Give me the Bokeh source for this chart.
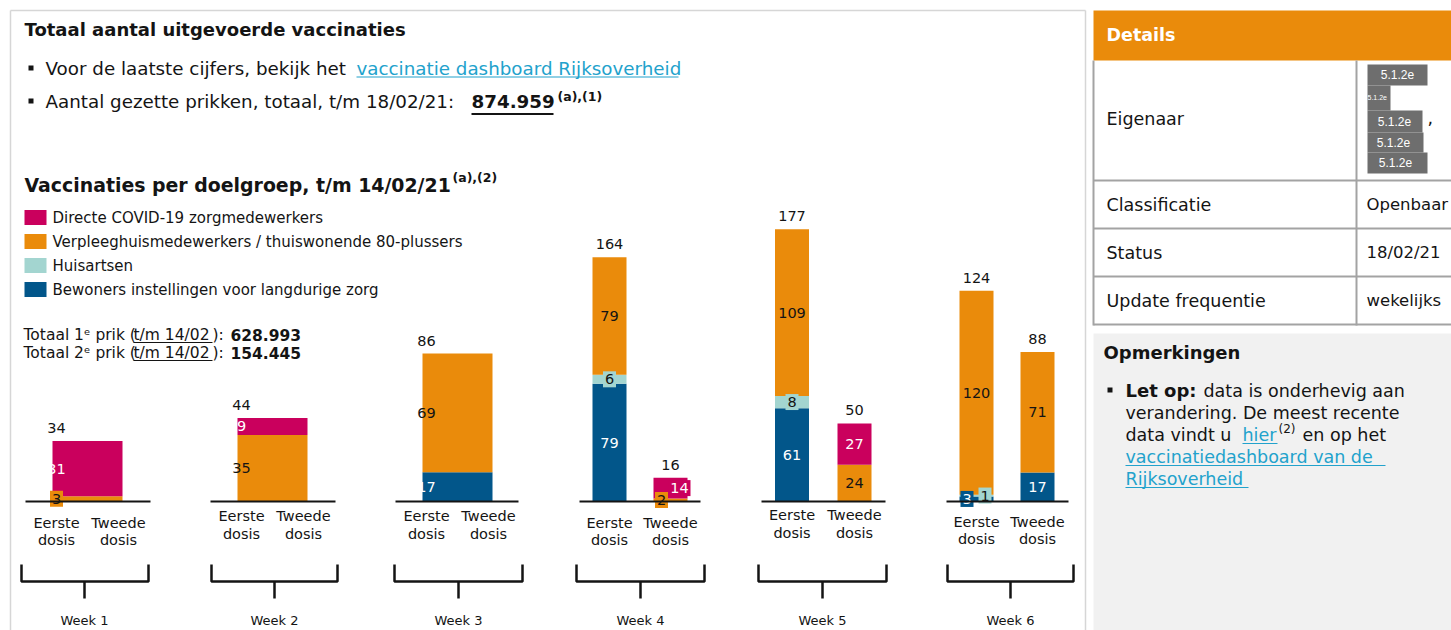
from bokeh.plotting import figure
from bokeh.models import Range1d, ColumnDataSource, Label
from bokeh.core.properties import value
from bokeh.embed import file_html
from bokeh.resources import INLINE

# ---------------- data (vaccinations, x 1000) ----------------
weeks = ["Week 1", "Week 2", "Week 3", "Week 4", "Week 5", "Week 6"]
dose_labels = [("Eerste", "dosis"), ("Tweede", "dosis")]
legend_labels = ["Directe COVID-19 zorgmedewerkers",
                 "Verpleeghuismedewerkers / thuiswonende 80-plussers",
                 "Huisartsen",
                 "Bewoners instellingen voor langdurige zorg"]
legend_keys = ["directe", "verpleeg", "huisartsen", "bewoners"]

eerste_bewoners = [0, 0, 17, 79, 61, 3]
eerste_huisartsen = [0, 0, 0, 6, 8, 1]
eerste_verpleeg = [3, 35, 69, 79, 109, 120]
eerste_directe = [31, 9, 0, 0, 0, 0]
eerste_totaal = [34, 44, 86, 164, 177, 124]

tweede_bewoners = [0, 0, 0, 0, 0, 17]
tweede_huisartsen = [0, 0, 0, 0, 0, 0]
tweede_verpleeg = [0, 0, 0, 2, 24, 71]
tweede_directe = [0, 0, 0, 14, 27, 0]
tweede_totaal = [0, 0, 0, 16, 50, 88]

totaal_prikken = "874.959"
totaal_1e = "628.993"
totaal_2e = "154.445"

details_rows = [("Eigenaar", ""), ("Classificatie", "Openbaar"),
                ("Status", "18/02/21"), ("Update frequentie", "wekelijks")]

# ---------------- styling / layout ----------------
MAGENTA = "#CA005D"
ORANGE = "#EA8B0B"
TEAL = "#A3D5D0"
BLUE = "#02568A"
INK = "#141414"
LINK = "#22A2CC"
FONT = "DejaVu Sans"
seg_color = {"bewoners": BLUE, "huisartsen": TEAL, "verpleeg": ORANGE, "directe": MAGENTA}
seg_text = {"bewoners": "white", "huisartsen": INK, "verpleeg": INK, "directe": "white"}
stack_order = ["bewoners", "huisartsen", "verpleeg", "directe"]
eerste = {"bewoners": eerste_bewoners, "huisartsen": eerste_huisartsen,
          "verpleeg": eerste_verpleeg, "directe": eerste_directe}
tweede = {"bewoners": tweede_bewoners, "huisartsen": tweede_huisartsen,
          "verpleeg": tweede_verpleeg, "directe": tweede_directe}

W, H = 1451, 630
OX, OY = 0, 0


def X(x):
    return x - OX


def Y(y):
    return y - OY


p = figure(width=W, height=H, x_range=Range1d(0, W), y_range=Range1d(H, 0),
           output_backend="svg", toolbar_location=None,
           x_axis_type=None, y_axis_type=None, min_border=0,
           outline_line_color=None, background_fill_color="white",
           border_fill_color="white")
p.grid.visible = False


def label(x, y, s, size, color=INK, bold=False, font=FONT, align="left", baseline="middle"):
    p.add_layout(Label(x=X(x), y=Y(y), text=s, text_font=font,
                       text_font_size=f"{size}px",
                       text_font_style="bold" if bold else "normal",
                       text_color=color, text_align=align, text_baseline=baseline))


def box(l, r, t, b, color):
    p.quad(left=[X(l)], right=[X(r)], top=[Y(t)], bottom=[Y(b)],
           fill_color=color, line_color=None)


def seg(x0, y0, x1, y1, color=INK, w=1.0):
    p.segment(x0=[X(x0)], y0=[Y(y0)], x1=[X(x1)], y1=[Y(y1)],
              line_color=color, line_width=w)


BODY = 18.3

# ---------------- page frame ----------------
FRAME = "#d6d6d6"
seg(10, 10, 1085, 10, FRAME, 1.5)
seg(10, 10, 10, 640, FRAME, 1.5)
seg(1085, 10, 1085, 640, FRAME, 1.5)

# ---------------- header texts ----------------
label(24, 29, "Totaal aantal uitgevoerde vaccinaties", 18, bold=True)
box(28, 33, 65, 70, INK)
label(45, 68, "Voor de laatste cijfers, bekijk het", BODY)
label(356, 68, "vaccinatie dashboard Rijksoverheid", BODY, color=LINK)
seg(356, 76.5, 678, 76.5, LINK, 1.2)
box(28, 33, 98, 103, INK)
label(45, 101, "Aantal gezette prikken, totaal, t/m 18/02/21:", BODY)
label(471, 101, totaal_prikken, BODY, bold=True)
seg(471, 113.5, 553, 113.5, INK, 2)
label(557, 96, "(a),(1)", 12.5, bold=True)

label(24, 184, "Vaccinaties per doelgroep, t/m 14/02/21", 18.9, bold=True)
label(452, 177, "(a),(2)", 12.5, bold=True)

# legend
for k, (key, txt) in enumerate(zip(legend_keys, legend_labels)):
    yc = 217 + 24 * k
    box(24, 46, yc - 7.5, yc + 7.5, seg_color[key])
    label(52, yc, txt, 15)

TOT = 15.5
for yy, num, nth in [(334, totaal_1e, "1ᵉ"), (352, totaal_2e, "2ᵉ")]:
    label(23, yy, f"Totaal {nth} prik (", TOT)
    label(133, yy, "t/m 14/02", TOT)
    seg(133, yy + 8, 212, yy + 8, INK, 1)
    label(212, yy, "):", TOT)
    label(230, yy, num, TOT, bold=True)

# ---------------- week charts ----------------
eerste_cx = [56, 241, 426, 609, 791.5, 976]
tweede_cx = [118, 303, 488, 670, 854, 1037]
wide_bar = [True, True, True, False, False, False]
px_per_k = [1.78, 1.90, 1.72, 1.49, 1.53, 1.70]
axis_lines = [(25, 150), (210, 335), (395, 518), (579, 700), (761, 885), (946, 1068)]
dose_text_y = [(522, 539), (515, 533), (515, 533), (522, 539), (514, 532), (521, 538)]
bracket_l = [21, 211, 394, 576, 758, 947]
bracket_r = [148, 337, 522, 704, 886, 1073]
bracket_c = [84, 274, 458, 640, 822, 1010]
BASE = 501
BAR_W = 34
label_dx = {(3, 1, "verpleeg"): -9, (3, 1, "directe"): 9,
            (5, 0, "bewoners"): -9.5, (5, 0, "huisartsen"): 8.5}
force_box = {(3, 1, "directe")}
VFONT = 14.5

for i in range(len(weeks)):
    s = px_per_k[i]
    rn = f"w{i}"
    below = (H - Y(BASE)) / s
    above = Y(BASE) / s
    p.extra_y_ranges[rn] = Range1d(start=-below, end=above)

    bars = dict(x=[], w=[], bottom=[], top=[], color=[])
    labs = dict(x=[], y=[], text=[], color=[])
    boxes = dict(x=[], y=[], w=[], color=[])
    tots = dict(x=[], y=[], text=[])
    for d, (series, totals) in enumerate([(eerste, eerste_totaal), (tweede, tweede_totaal)]):
        cx = eerste_cx[i] if d == 0 else tweede_cx[i]
        if wide_bar[i]:
            bx = (eerste_cx[i] + tweede_cx[i]) / 2
            bw = tweede_cx[i] - eerste_cx[i] + 8
            lx = eerste_cx[i]
        else:
            bx, bw, lx = cx, BAR_W, cx
        cum = 0
        for g in stack_order:
            v = series[g][i]
            if v == 0:
                continue
            bars["x"].append(X(bx)); bars["w"].append(bw)
            bars["bottom"].append(cum); bars["top"].append(cum + v)
            bars["color"].append(seg_color[g])
            xl = lx + label_dx.get((i, d, g), 0)
            yl = cum + v / 2
            if v * s < 16 or (i, d, g) in force_box:
                boxes["x"].append(X(xl)); boxes["y"].append(yl)
                boxes["w"].append(4 + 9 * len(str(v))); boxes["color"].append(seg_color[g])
            labs["x"].append(X(xl)); labs["y"].append(yl)
            labs["text"].append(str(v)); labs["color"].append(seg_text[g])
            cum += v
        if totals[i]:
            tots["x"].append(X(lx)); tots["y"].append(cum + 13 / s)
            tots["text"].append(str(totals[i]))

    p.vbar(x="x", width="w", bottom="bottom", top="top", fill_color="color",
           line_color=None, source=ColumnDataSource(bars), y_range_name=rn)
    if boxes["x"]:
        p.rect(x="x", y="y", width="w", height=16, width_units="screen",
               height_units="screen", fill_color="color", line_color=None,
               source=ColumnDataSource(boxes), y_range_name=rn)
    p.text(x="x", y="y", text="text", text_color="color", source=ColumnDataSource(labs),
           text_font=value(FONT), text_font_size=f"{VFONT}px", text_align="center",
           text_baseline="middle", y_range_name=rn)
    p.text(x="x", y="y", text="text", text_color=INK, source=ColumnDataSource(tots),
           text_font=value(FONT), text_font_size=f"{VFONT}px", text_align="center",
           text_baseline="middle", y_range_name=rn)

    # baseline
    seg(axis_lines[i][0], BASE, axis_lines[i][1], BASE, INK, 2)
    # dose labels
    for d, cx in enumerate([eerste_cx[i], tweede_cx[i]]):
        label(cx, dose_text_y[i][0], dose_labels[d][0], VFONT, align="center")
        label(cx, dose_text_y[i][1], dose_labels[d][1], VFONT, align="center")
    # bracket
    p.multi_line(xs=[[X(bracket_l[i]), X(bracket_l[i]), X(bracket_r[i]), X(bracket_r[i])],
                     [X(bracket_c[i]), X(bracket_c[i])]],
                 ys=[[Y(564), Y(581), Y(581), Y(564)], [Y(581), Y(598)]],
                 line_color=INK, line_width=2.5)
    label(bracket_c[i], 620, weeks[i], 13, align="center")

# ---------------- right panel: details table ----------------
box(1093, 1460, 10, 60, ORANGE)
label(1106, 34, "Details", 17.5, color="white", bold=True)
GRID = "#a3a3a3"
for yy in [180, 228, 276, 324]:
    seg(1093, yy, 1460, yy, GRID, 2)
seg(1093, 60, 1093, 325, GRID, 2)
seg(1356, 60, 1356, 325, GRID, 2)
row_y = [118, 204, 252, 300]
for (k, v), yy in zip(details_rows, row_y):
    label(1106, yy, k, 17.5)
    if v:
        label(1366, yy, v, 16.5)

# redacted owner block
RED = "#6e6e6e"
for (l, r, t, b) in [(1367, 1427, 64, 85), (1367, 1390, 85, 110), (1367, 1422, 110, 132),
                     (1367, 1423, 132, 152), (1367, 1427, 152, 173)]:
    box(l, r, t, b, RED)
for (tx, ty) in [(1397, 74), (1394, 121), (1393, 142), (1395, 162)]:
    label(tx, ty, "5.1.2e", 12, color="white", font="Liberation Sans", align="center")
label(1367, 97, "5.1.2e", 7, color="white", font="Liberation Sans")
label(1427, 117, ",", 17.5)

# ---------------- right panel: remarks ----------------
box(1093, 1460, 333, 640, "#F1F1F1")
label(1103, 352, "Opmerkingen", 18, bold=True)
box(1107, 1112, 387, 392, INK)
label(1125, 390, "Let op:", 18, bold=True)
label(1203, 390, "data is onderhevig aan", 17.5)
label(1125, 412, "verandering. De meest recente", 17.5)
label(1125, 434, "data vindt u", 17.5)
label(1242, 434, "hier", 17.5, color=LINK)
seg(1242, 443, 1277, 443, LINK, 1.2)
label(1278, 428, "(2)", 12)
label(1302, 434, "en op het", 17.5)
label(1125, 456, "vaccinatiedashboard van de", 17.5, color=LINK)
seg(1125, 465, 1385, 465, LINK, 1.2)
label(1125, 478, "Rijksoverheid", 17.5, color=LINK)
seg(1125, 487, 1248, 487, LINK, 1.2)

open("out.html", "w").write(file_html(p, INLINE))
